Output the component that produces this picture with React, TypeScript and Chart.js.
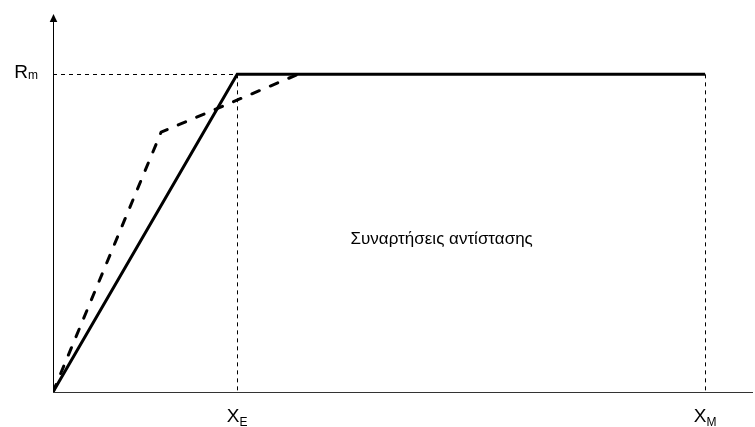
import React, { useEffect, useRef } from "react";
import { Chart, registerables } from "chart.js";

Chart.register(...registerables);

// Resistance functions: solid = elastic-perfectly plastic, dashed = bilinear/trilinear
const solidX = [0, 1, 3.54];
const solidY = [0, 1, 1];
const dashedX = [0, 0.587, 1.33];
const dashedY = [0, 0.818, 1];

const xTickValues = [1, 3.54];
const xTickMain = ["X", "X"];
const xTickSub = ["E", "M"];
const yTickValues = [1];
const yTickMain = ["R"];
const yTickSub = ["m"];

const annotationText = "Συναρτήσεις αντίστασης";
const annotationX = 2.11;
const annotationY = 0.48;

const X_MAX = 3.8;
const Y_MAX = 1.19;

const FONT = "Arial, 'Liberation Sans', sans-serif";

const axesPlugin = {
  id: "customAxes",
  beforeDatasetsDraw(chart: any) {
    const { ctx, scales } = chart;
    const xs = scales.x;
    const ys = scales.y;
    const x0 = xs.getPixelForValue(0);
    const y0 = ys.getPixelForValue(0);
    const xEnd = xs.getPixelForValue(X_MAX);
    const yTop = ys.getPixelForValue(Y_MAX);
    ctx.save();
    // guide lines
    ctx.strokeStyle = "#000";
    ctx.lineWidth = 1;
    ctx.setLineDash([4, 4]);
    yTickValues.forEach((v) => {
      const py = Math.round(ys.getPixelForValue(v)) + 0.5;
      ctx.beginPath();
      ctx.moveTo(x0, py);
      ctx.lineTo(xs.getPixelForValue(solidX[1]), py);
      ctx.stroke();
    });
    xTickValues.forEach((v) => {
      const px = Math.round(xs.getPixelForValue(v)) + 0.5;
      ctx.beginPath();
      ctx.moveTo(px, ys.getPixelForValue(solidY[1]));
      ctx.lineTo(px, y0);
      ctx.stroke();
    });
    ctx.setLineDash([]);
    // axes
    ctx.strokeStyle = "#333";
    ctx.beginPath();
    ctx.moveTo(x0, Math.round(y0) + 0.5);
    ctx.lineTo(xEnd, Math.round(y0) + 0.5);
    ctx.stroke();
    ctx.strokeStyle = "#000";
    const ax = Math.round(x0) + 0.5;
    ctx.beginPath();
    ctx.moveTo(ax, y0);
    ctx.lineTo(ax, yTop + 6);
    ctx.stroke();
    ctx.fillStyle = "#000";
    ctx.beginPath();
    ctx.moveTo(ax, yTop);
    ctx.lineTo(ax - 3.8, yTop + 8);
    ctx.lineTo(ax + 3.8, yTop + 8);
    ctx.closePath();
    ctx.fill();
    // tick labels
    ctx.fillStyle = "#000";
    ctx.textBaseline = "alphabetic";
    const mainFont = `19px ${FONT}`;
    const subFont = `12px ${FONT}`;
    xTickValues.forEach((v, i) => {
      const px = xs.getPixelForValue(v);
      ctx.font = mainFont;
      const wm = ctx.measureText(xTickMain[i]).width;
      ctx.font = subFont;
      const ws = ctx.measureText(xTickSub[i]).width;
      const start = px - (wm + ws) / 2;
      ctx.font = mainFont;
      ctx.textAlign = "left";
      ctx.fillText(xTickMain[i], start, y0 + 30);
      ctx.font = subFont;
      ctx.fillText(xTickSub[i], start + wm, y0 + 34);
    });
    yTickValues.forEach((v, i) => {
      const py = ys.getPixelForValue(v);
      ctx.font = mainFont;
      const wm = ctx.measureText(yTickMain[i]).width;
      ctx.font = subFont;
      const ws = ctx.measureText(yTickSub[i]).width;
      const end = x0 - 15;
      ctx.textAlign = "left";
      ctx.font = mainFont;
      ctx.fillText(yTickMain[i], end - ws - wm, py + 4);
      ctx.font = subFont;
      ctx.fillText(yTickSub[i], end - ws, py + 5);
    });
    // annotation
    ctx.font = `17px ${FONT}`;
    ctx.textAlign = "center";
    ctx.textBaseline = "middle";
    ctx.fillText(annotationText, xs.getPixelForValue(annotationX), ys.getPixelForValue(annotationY));
    ctx.restore();
  },
};

export default function App() {
  const ref = useRef<HTMLCanvasElement | null>(null);
  useEffect(() => {
    document.body.style.margin = "0";
    const canvas = ref.current!;
    const chart = new Chart(canvas, {
      type: "scatter",
      data: {
        datasets: [
          {
            data: solidX.map((x, i) => ({ x, y: solidY[i] })),
            showLine: true,
            borderColor: "#000",
            borderWidth: 3,
            pointRadius: 0,
            borderJoinStyle: "miter",
            borderCapStyle: "butt",
          },
          {
            data: dashedX.map((x, i) => ({ x, y: dashedY[i] })),
            showLine: true,
            borderColor: "#000",
            borderWidth: 3,
            borderDash: [8, 12],
            pointRadius: 0,
            borderJoinStyle: "round",
            borderCapStyle: "round",
          },
        ],
      },
      options: {
        responsive: false,
        animation: false,
        layout: { padding: { left: 53, right: 2, top: 14, bottom: 35 } },
        plugins: { legend: { display: false }, tooltip: { enabled: false } },
        scales: {
          x: { type: "linear", min: 0, max: X_MAX, display: false },
          y: { type: "linear", min: 0, max: Y_MAX, display: false },
        },
      },
      plugins: [axesPlugin],
    });
    return () => chart.destroy();
  }, []);
  return <canvas ref={ref} width={755} height={427} style={{ display: "block" }} />;
}
